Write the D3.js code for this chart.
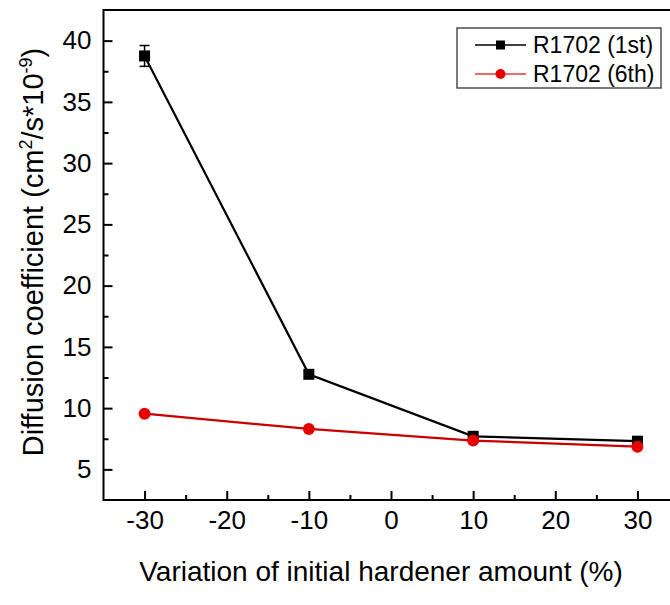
<!DOCTYPE html>
<html>
<head>
<meta charset="utf-8">
<script src="https://d3js.org/d3.v7.min.js"></script>
<style>
  body { margin: 0; background: #fff; }
  svg { display: block; font-family: "Liberation Sans", Arial, sans-serif; }
</style>
</head>
<body>
<script>
var width = 670;
var height = 605;

// data
var xValues = [-30, -10, 10, 30];
var first = [38.75, 12.76, 7.7, 7.3];
var firstErr = [0.85, 0.2, 0.15, 0.15];
var sixth = [9.55, 8.3, 7.35, 6.85];
var seriesNames = ["R1702 (1st)", "R1702 (6th)"];
var xTicks = [-30, -20, -10, 0, 10, 20, 30];
var xMinor = [-25, -15, -5, 5, 15, 25];
var yTicks = [5, 10, 15, 20, 25, 30, 35, 40];
var yMinor = [7.5, 12.5, 17.5, 22.5, 27.5, 32.5, 37.5];

var x = d3.scaleLinear().domain([-35, 35]).range([103.5, 678.5]);
var y = d3.scaleLinear().domain([2.5, 42.5]).range([500, 10]);

var svg = d3.select("body").append("svg")
  .attr("width", width)
  .attr("height", height);

svg.append("rect").attr("width", width).attr("height", height).attr("fill", "#fff");

// frame
svg.append("rect")
  .attr("x", x.range()[0]).attr("y", y.range()[1])
  .attr("width", x.range()[1] - x.range()[0])
  .attr("height", y.range()[0] - y.range()[1])
  .attr("fill", "none").attr("stroke", "#000").attr("stroke-width", 2);

function plain(d) { return String(d); }

// x axis (ticks inside)
var xAxis = svg.append("g")
  .attr("transform", "translate(0," + y.range()[0] + ")")
  .call(d3.axisBottom(x).tickValues(xTicks).tickFormat(plain).tickSizeInner(-9).tickSizeOuter(0).tickPadding(11));
xAxis.select(".domain").remove();
xAxis.selectAll(".tick line").attr("stroke-width", 2);
xAxis.selectAll(".tick text").attr("font-size", 26).attr("font-family", "Liberation Sans").attr("fill", "#000");

var xAxisMinor = svg.append("g")
  .attr("transform", "translate(0," + y.range()[0] + ")")
  .call(d3.axisBottom(x).tickValues(xMinor).tickSizeInner(-5).tickSizeOuter(0).tickFormat(""));
xAxisMinor.select(".domain").remove();
xAxisMinor.selectAll(".tick line").attr("stroke-width", 2);

// y axis (ticks inside)
var yAxis = svg.append("g")
  .attr("transform", "translate(" + x.range()[0] + ",0)")
  .call(d3.axisLeft(y).tickValues(yTicks).tickFormat(plain).tickSizeInner(-9).tickSizeOuter(0).tickPadding(12));
yAxis.select(".domain").remove();
yAxis.selectAll(".tick line").attr("stroke-width", 2);
yAxis.selectAll(".tick text").attr("font-size", 26).attr("font-family", "Liberation Sans").attr("fill", "#000");

var yAxisMinor = svg.append("g")
  .attr("transform", "translate(" + x.range()[0] + ",0)")
  .call(d3.axisLeft(y).tickValues(yMinor).tickSizeInner(-5).tickSizeOuter(0).tickFormat(""));
yAxisMinor.select(".domain").remove();
yAxisMinor.selectAll(".tick line").attr("stroke-width", 2);

// axis titles
svg.append("text")
  .attr("x", 381).attr("y", 581)
  .attr("text-anchor", "middle")
  .attr("font-size", 28)
  .text("Variation of initial hardener amount (%)");

var yt = svg.append("text")
  .attr("transform", "translate(43,252) rotate(-90)")
  .attr("text-anchor", "middle")
  .attr("font-size", 29);
yt.append("tspan").text("Diffusion coefficient (cm");
yt.append("tspan").attr("font-size", 18).attr("dy", -11).text("2");
yt.append("tspan").attr("dy", 11).text("/s*10");
yt.append("tspan").attr("font-size", 18).attr("dy", -11).text("-9");
yt.append("tspan").attr("dy", 11).text(")");

var line = d3.line()
  .x(function(d) { return x(d.x); })
  .y(function(d) { return y(d.y); });

var d1 = xValues.map(function(v, i) { return {x: v, y: first[i], e: firstErr[i]}; });
var d6 = xValues.map(function(v, i) { return {x: v, y: sixth[i]}; });

// 1st series
svg.append("path").datum(d1).attr("d", line)
  .attr("fill", "none").attr("stroke", "#000").attr("stroke-width", 2.2);

var err = svg.selectAll(".err").data(d1).enter().append("g").attr("class", "err");
err.append("line")
  .attr("x1", function(d) { return x(d.x); }).attr("x2", function(d) { return x(d.x); })
  .attr("y1", function(d) { return y(d.y + d.e); }).attr("y2", function(d) { return y(d.y - d.e); })
  .attr("stroke", "#000").attr("stroke-width", 1.5);
err.append("line")
  .attr("x1", function(d) { return x(d.x) - 5; }).attr("x2", function(d) { return x(d.x) + 5; })
  .attr("y1", function(d) { return y(d.y + d.e); }).attr("y2", function(d) { return y(d.y + d.e); })
  .attr("stroke", "#000").attr("stroke-width", 1.5);
err.append("line")
  .attr("x1", function(d) { return x(d.x) - 5; }).attr("x2", function(d) { return x(d.x) + 5; })
  .attr("y1", function(d) { return y(d.y - d.e); }).attr("y2", function(d) { return y(d.y - d.e); })
  .attr("stroke", "#000").attr("stroke-width", 1.5);

svg.selectAll(".sq").data(d1).enter().append("rect")
  .attr("class", "sq")
  .attr("x", function(d) { return x(d.x) - 5.5; })
  .attr("y", function(d) { return y(d.y) - 5.5; })
  .attr("width", 11).attr("height", 11)
  .attr("fill", "#000");

// 6th series
svg.append("path").datum(d6).attr("d", line)
  .attr("fill", "none").attr("stroke", "#c80000").attr("stroke-width", 2.2);

svg.selectAll(".dot").data(d6).enter().append("circle")
  .attr("class", "dot")
  .attr("cx", function(d) { return x(d.x); })
  .attr("cy", function(d) { return y(d.y); })
  .attr("r", 6)
  .attr("fill", "#e60000");

// legend
var legend = svg.append("g");
legend.append("rect")
  .attr("x", 457).attr("y", 28).attr("width", 204).attr("height", 60)
  .attr("fill", "#fff").attr("stroke", "#333").attr("stroke-width", 1.3);

var rows = legend.selectAll(".row").data(seriesNames).enter().append("g")
  .attr("class", "row")
  .attr("transform", function(d, i) { return "translate(0," + (45 + i * 29) + ")"; });

rows.append("line")
  .attr("x1", 475).attr("x2", 526)
  .attr("stroke", function(d, i) { return i == 0 ? "#000" : "#e23a3a"; })
  .attr("stroke-width", 1.3);
rows.filter(function(d, i) { return i == 0; }).append("rect")
  .attr("x", 496).attr("y", -4.5).attr("width", 9).attr("height", 9).attr("fill", "#000");
rows.filter(function(d, i) { return i == 1; }).append("circle")
  .attr("cx", 500.5).attr("r", 5).attr("fill", "#e60000");
rows.append("text")
  .attr("x", 533).attr("dy", "0.35em")
  .attr("font-size", 23)
  .text(function(d) { return d; });
</script>
</body>
</html>
